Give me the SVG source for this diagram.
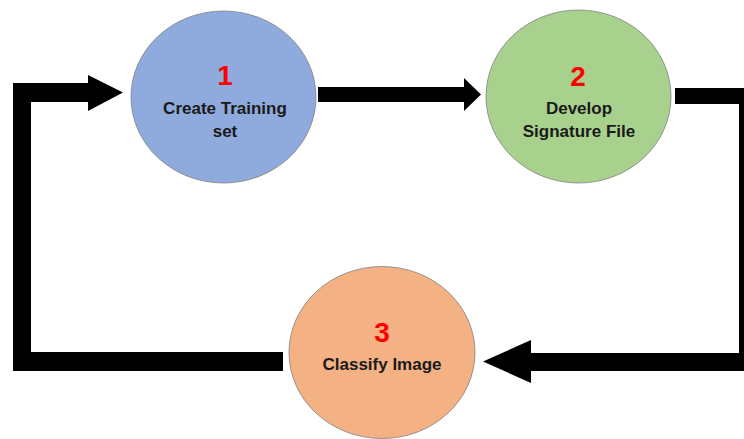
<svg xmlns="http://www.w3.org/2000/svg" width="744" height="439" viewBox="0 0 744 439">
<style>
.node ellipse{stroke:#7f7f7f;stroke-width:0.8}
.num{font-family:"Liberation Sans",Arial,sans-serif;font-weight:bold;font-size:28px;fill:#ff0000;text-anchor:middle}
.lbl{font-family:"Liberation Sans",Arial,sans-serif;font-weight:bold;font-size:17px;fill:#1a1a1a;text-anchor:middle}
.arrow{fill:#000000}
</style>
<rect width="744" height="439" fill="#ffffff"/>
<g id="connectors">
<polygon class="arrow" points="283,352 283,371 13,371 13,83 88,83 88,75 123,92.5 88,111 88,102 31,102 31,352"/>
<polygon class="arrow" points="318,87 464,87 464,78 481,94.5 464,111 464,102 318,102"/>
<polygon class="arrow" points="675,88 755,88 755,371 531,371 531,383 483,361.5 531,340 531,353 739,353 739,104 675,104"/>
</g>
<g id="node1" class="node">
<ellipse cx="223.5" cy="97" rx="92.5" ry="86" fill="#8faadc"/>
<text class="num" x="225" y="85">1</text>
<text class="lbl" x="225" y="114">Create Training</text>
<text class="lbl" x="225" y="137">set</text>
</g>
<g id="node2" class="node">
<ellipse cx="578.5" cy="96.5" rx="92.5" ry="86.5" fill="#a9d18e"/>
<text class="num" x="578" y="86">2</text>
<text class="lbl" x="579" y="114">Develop</text>
<text class="lbl" x="579" y="137">Signature File</text>
</g>
<g id="node3" class="node">
<ellipse cx="382" cy="352.5" rx="93" ry="86" fill="#f4b183"/>
<text class="num" x="382" y="342">3</text>
<text class="lbl" x="382" y="370">Classify Image</text>
</g>
</svg>
